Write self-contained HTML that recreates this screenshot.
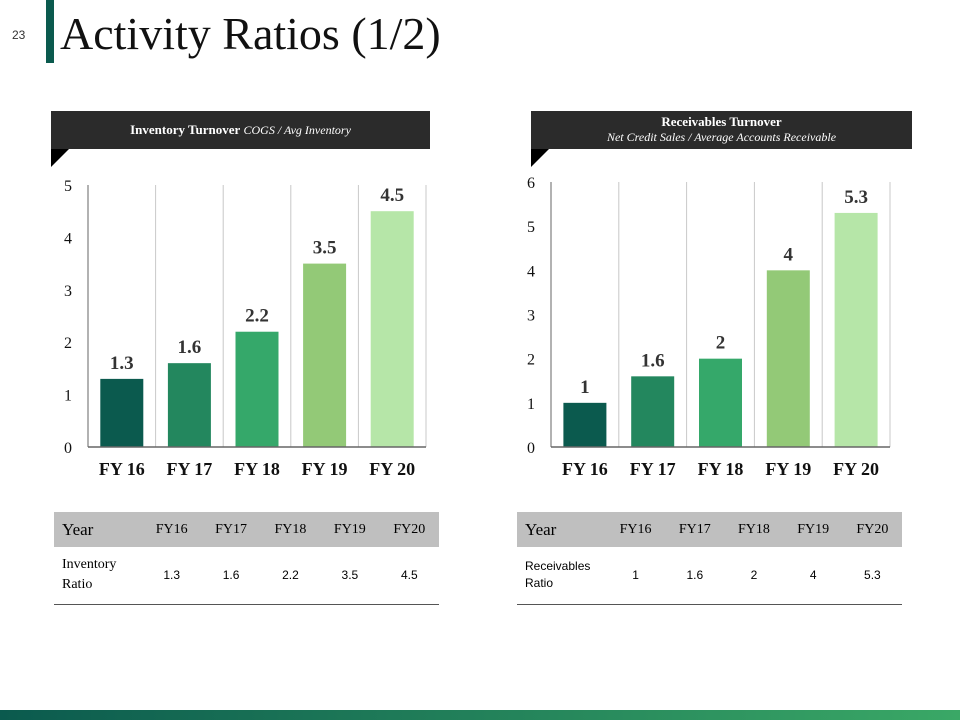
<!DOCTYPE html>
<html><head><meta charset="utf-8"><style>
body{margin:0;width:960px;height:720px;position:relative;background:#fff;overflow:hidden;font-family:"Liberation Serif",serif}
.abs{position:absolute}
.hdr{background:#2b2b2b;color:#fff;text-align:center;font-size:13px;line-height:15px}
.fold{width:0;height:0;border-top:18px solid #000;border-left:18px solid transparent;transform:scaleX(-1)}
table{border-collapse:collapse;position:absolute;font-size:14px;table-layout:fixed}
td{padding:0;text-align:center}
</style></head><body>
<div class="abs" style="left:12px;top:28px;font:12px 'Liberation Sans',sans-serif;color:#333">23</div>
<div class="abs" style="left:46px;top:0;width:8px;height:63px;background:#0b5a4e"></div>
<div class="abs" style="left:60px;top:5px;font-size:46px;line-height:58px;color:#111">Activity Ratios (1/2)</div>

<div class="abs hdr" style="left:51px;top:111px;width:379px;height:38px;line-height:38px"><b>Inventory Turnover</b> <i style="font-size:12px">COGS / Avg Inventory</i></div>
<div class="abs fold" style="left:51px;top:149px"></div>
<div class="abs hdr" style="left:531px;top:111px;width:381px;height:38px;padding-top:3px;box-sizing:border-box"><b>Receivables Turnover</b><br><i style="font-size:12px">Net Credit Sales / Average Accounts Receivable</i></div>
<div class="abs fold" style="left:531px;top:149px"></div>

<svg class="abs" style="left:0;top:0" width="960" height="720">
<g id="c1"></g>
<g id="c2"></g>
</svg>

<table style="left:54px;top:512px;width:385px">
<colgroup><col style="width:88px"><col><col><col><col><col></colgroup>
<tr style="background:#bfbfbf;height:35px"><td style="text-align:left;padding-left:8px;font-size:17px">Year</td><td>FY16</td><td>FY17</td><td>FY18</td><td>FY19</td><td>FY20</td></tr>
<tr style="height:57px;border-bottom:1px solid #555;font:12px 'Liberation Sans',sans-serif"><td style="text-align:left;padding-left:8px;font:14px 'Liberation Serif',serif;line-height:20px">Inventory<br>Ratio</td><td>1.3</td><td>1.6</td><td>2.2</td><td>3.5</td><td>4.5</td></tr>
</table>
<table style="left:517px;top:512px;width:385px">
<colgroup><col style="width:89px"><col><col><col><col><col></colgroup>
<tr style="background:#bfbfbf;height:35px"><td style="text-align:left;padding-left:8px;font-size:17px">Year</td><td>FY16</td><td>FY17</td><td>FY18</td><td>FY19</td><td>FY20</td></tr>
<tr style="height:57px;border-bottom:1px solid #555;font:12px 'Liberation Sans',sans-serif"><td style="text-align:left;padding-left:8px;line-height:17px">Receivables<br>Ratio</td><td>1</td><td>1.6</td><td>2</td><td>4</td><td>5.3</td></tr>
</table>

<div class="abs" style="left:0;top:710px;width:960px;height:10px;background:linear-gradient(90deg,#0b5a4e,#3aa866)"></div>

<script>
const categories=["FY 16","FY 17","FY 18","FY 19","FY 20"];
const inventoryValues=[1.3,1.6,2.2,3.5,4.5];
const inventoryLabels=["1.3","1.6","2.2","3.5","4.5"];
const inventoryTicks=[0,1,2,3,4,5];
const receivablesValues=[1,1.6,2,4,5.3];
const receivablesLabels=["1","1.6","2","4","5.3"];
const receivablesTicks=[0,1,2,3,4,5,6];
const colors=["#0b5a4e","#23875e","#35a86a","#93c977","#b6e6a8"];
const NS="http://www.w3.org/2000/svg";
function mk(g,t,a,txt){const e=document.createElementNS(NS,t);for(const k in a)e.setAttribute(k,a[k]);if(txt!=null)e.textContent=txt;g.appendChild(e);return e;}
function draw(id,x0,x1,y0,y1,max,vals,labels,ticks,pref){
  const g=document.getElementById(id);
  const bw=(x1-x0)/categories.length;
  const x=i=>x0+bw*i, y=v=>y0-(y0-y1)*v/max;
  for(let i=0;i<=categories.length;i++){const l=mk(g,'line',{x1:x(i),x2:x(i),y1:y1,y2:y0,stroke:i==0?'#666':'#c8c8c8','stroke-width':1});
    }
  ticks.forEach(t=>{const e=mk(g,'text',{x:x0-20,y:y(t)+6,'text-anchor':'middle','font-size':16,fill:'#111'},t);
    });
  vals.forEach((v,i)=>{const cx=x(i)+bw/2;
    const r=mk(g,'rect',{x:cx-21.5,y:y(v),width:43,height:y0-y(v),fill:colors[i]});
    
    const t=mk(g,'text',{x:cx,y:y(v)-10,'text-anchor':'middle','font-size':19,'font-weight':'bold',fill:'#333'},labels[i]);
    
    const c=mk(g,'text',{x:cx,y:y0+28,'text-anchor':'middle','font-size':18,'font-weight':'bold',fill:'#111'},categories[i]);
    });
  const b=mk(g,'line',{x1:x0,x2:x1,y1:y0,y2:y0,stroke:'#666','stroke-width':1.5});
  
}
draw('c1',88,426,447,185,5,inventoryValues,inventoryLabels,inventoryTicks,'inventory');
draw('c2',551,890,447,182,6,receivablesValues,receivablesLabels,receivablesTicks,'receivables');
</script>
</body></html>
